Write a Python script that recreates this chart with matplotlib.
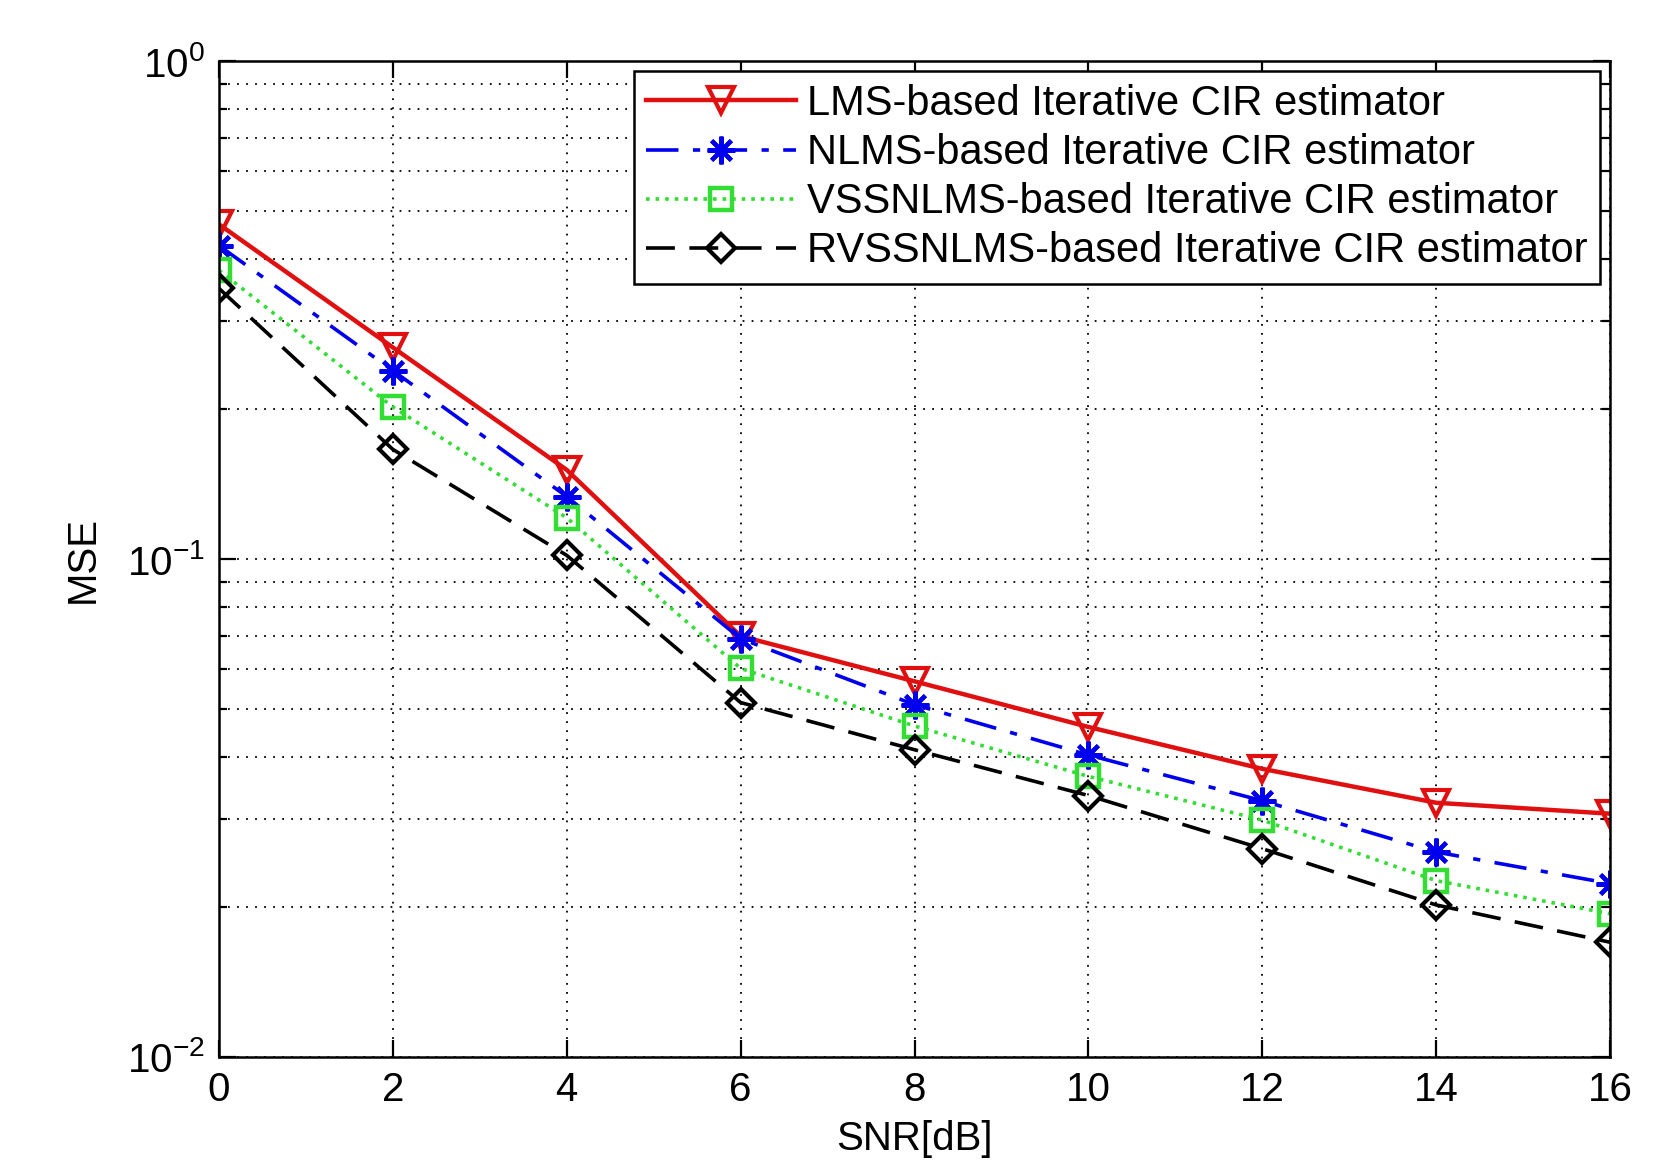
import numpy as np
import matplotlib.pyplot as plt
from matplotlib.ticker import LogLocator, NullFormatter, MultipleLocator

plt.rcParams['font.family'] = ['Liberation Sans', 'DejaVu Sans']
plt.rcParams['mathtext.default'] = 'regular'

# SNR values
snr = [0, 2, 4, 6, 8, 10, 12, 14, 16]

# MSE
mse_lms = [0.47, 0.266, 0.151, 0.070, 0.0568, 0.046, 0.0379, 0.0324, 0.0308]
mse_nlms = [0.426, 0.239, 0.1335, 0.0692, 0.051, 0.0404, 0.0327, 0.0258, 0.0223]
mse_vss = [0.380, 0.202, 0.121, 0.0603, 0.0462, 0.0366, 0.0299, 0.0226, 0.0194]
mse_rvss = [0.3495, 0.166, 0.1017, 0.0515, 0.0414, 0.0335, 0.0262, 0.0202, 0.0170]

labels = ['LMS-based Iterative CIR estimator',
          'NLMS-based Iterative CIR estimator',
          'VSSNLMS-based Iterative CIR estimator',
          'RVSSNLMS-based Iterative CIR estimator']

fig = plt.figure(figsize=(16.74, 11.6), dpi=100)
ax = fig.add_axes([0.1308, 0.0888, 0.9618 - 0.1308, 0.9474 - 0.0888])

ax.semilogy(snr, mse_lms, color='#e01010', ls='-', lw=3.2, marker='v',
            ms=19, mfc='none', mew=3, label=labels[0])
ax.semilogy(snr, mse_nlms, color='#0000ee', ls='-.', lw=2.6,
            dashes=(9, 4, 2, 4), marker=(8, 2, 0),
            ms=20, mew=3, label=labels[1])
ax.semilogy(snr, mse_vss, color='#33dd33', ls=':', lw=2.6, marker='s',
            ms=16, mfc='none', mew=3.2, label=labels[2])
ax.semilogy(snr, mse_rvss, color='black', ls='--', lw=2.6, dashes=(8, 4),
            marker='D', ms=14, mfc='none', mew=3, label=labels[3])

ax.set_xlim(0, 16)
ax.set_ylim(1e-2, 1)
ax.xaxis.set_major_locator(MultipleLocator(2))
ax.yaxis.set_major_locator(LogLocator(base=10))
ax.yaxis.set_minor_locator(LogLocator(base=10, subs=np.arange(2, 10)))
ax.yaxis.set_minor_formatter(NullFormatter())

ax.grid(True, which='major', ls=(0, (1, 4)), color='black', lw=1.3)
ax.grid(True, which='minor', axis='y', ls=(0, (1, 4)), color='black', lw=1.3)

ax.tick_params(which='both', direction='in', top=True, right=True,
               labelsize=29, width=1.6, pad=10)
ax.tick_params(which='major', length=12)
ax.tick_params(which='minor', length=6)
for s in ax.spines.values():
    s.set_linewidth(1.8)

ax.set_xlabel('SNR[dB]', fontsize=29, labelpad=8)
ax.set_ylabel('MSE', fontsize=29, labelpad=18)

leg = ax.legend(loc='upper right', fontsize=30, handlelength=3.6,
                borderaxespad=0.25, fancybox=False, framealpha=1,
                edgecolor='black', labelspacing=0.22, handletextpad=0.25,
                borderpad=0.3)
leg.get_frame().set_linewidth(1.8)

fig.savefig('out.png', dpi=100)
